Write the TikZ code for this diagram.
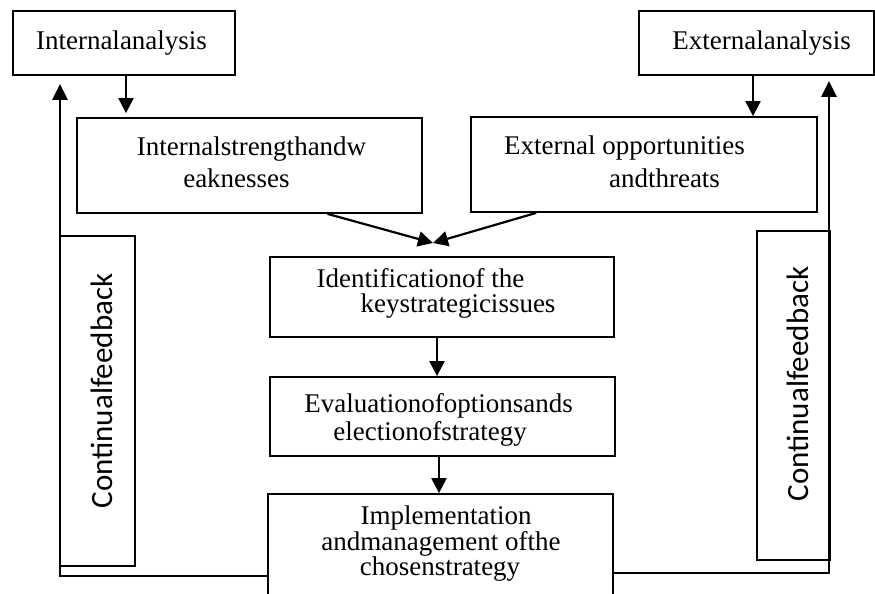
\documentclass[tikz,border=0pt]{standalone}
\usepackage{fontspec}
\setmainfont{Liberation Serif}
\newfontfamily\fbfont{Carlito}
\usetikzlibrary{arrows.meta,calc}
\begin{document}
\begin{tikzpicture}[x=1pt,y=-1pt,
  box/.style={draw, line width=1.8pt, inner sep=0pt},
  txt/.style={font=\fontsize{27}{31}\selectfont, inner sep=0pt, anchor=base},
  fbtxt/.style={font=\fbfont\fontsize{31}{36}\selectfont, inner sep=0pt, anchor=base, rotate=90},
  arr/.style={line width=2.2pt, -{Triangle[length=15pt,width=15pt]}},
  fb/.style={line width=2.8pt, -{Triangle[length=16pt,width=15pt]}}]
\useasboundingbox (0,0) rectangle (875,594);
\clip (0,0) rectangle (875,594);
\fill[white] (0,0) rectangle (875,594);

% boxes
\node[box, minimum width=222pt, minimum height=64pt] (ia) at (124,43) {};
\node[box, minimum width=235pt, minimum height=64pt] (ea) at (756.5,43) {};
\node[box, minimum width=345pt, minimum height=95pt] (is) at (249.5,165.5) {};
\node[box, minimum width=346pt, minimum height=95pt] (eo) at (644,164.5) {};
\node[box, minimum width=344pt, minimum height=80pt] (id) at (442,297) {};
\node[box, minimum width=345pt, minimum height=79pt] (ev) at (442.5,416.5) {};
\node[box, minimum width=345pt, minimum height=116pt] (im) at (440.5,552) {};
\node[box, minimum width=75pt, minimum height=330pt] (cfl) at (97.5,401) {};
\node[box, minimum width=73pt, minimum height=329pt] (cfr) at (793.5,395.5) {};

% texts
\node[txt] (ia-t) at (121.5,50) {Internalanalysis};
\node[txt] (ea-t) at (761.5,50) {Externalanalysis};
\node[txt] (is-t1) at (251.5,155) {Internalstrengthandw};
\node[txt] (is-t2) at (236.5,187) {eaknesses};
\node[txt] (eo-t1) at (624.5,154) {External opportunities};
\node[txt] (eo-t2) at (664.5,187) {andthreats};
\node[txt] (id-t1) at (420.5,287) {Identificationof the};
\node[txt] (id-t2) at (458,312) {keystrategicissues};
\node[txt] (ev-t1) at (438.5,412) {Evaluationofoptionsands};
\node[txt] (ev-t2) at (430,440) {electionofstrategy};
\node[txt] (im-t1) at (446,524) {Implementation};
\node[txt] (im-t2) at (441,550) {andmanagement ofthe};
\node[txt] (im-t3) at (440,575) {chosenstrategy};
\node[fbtxt] (cfl-t) at (112,391) {Continualfeedback};
\node[fbtxt] (cfr-t) at (808,384) {Continualfeedback};

% connectors
\draw[arr, shorten >=4pt] ([xshift=2pt]ia.south) -- ([xshift=2pt]ia.south |- is.north);
\draw[arr] ([xshift=-3.5pt]ea.south) -- ([xshift=-3.5pt]ea.south |- eo.north);
\coordinate (meet) at (433,243);
\draw[arr] ($(is.south west)!0.725!(is.south east)$) -- (meet);
\draw[arr] ($(eo.south west)!0.19!(eo.south east)$) -- (meet);
\draw[arr] ([xshift=-5pt]id.south) -- ([xshift=-5pt]id.south |- ev.north);
\draw[arr] ([xshift=-3.5pt]ev.south) -- ([xshift=-3.5pt]ev.south |- im.north);

% feedback loops
\coordinate (fbl) at (60,576);
\coordinate (fbr) at (829,573);
\draw[fb, shorten >=8pt] (im.west |- fbl) -- (fbl) -- (fbl |- ia.south);
\draw[fb, shorten >=5pt] (im.east |- fbr) -- (fbr) -- (fbr |- ea.south);
\end{tikzpicture}
\end{document}
